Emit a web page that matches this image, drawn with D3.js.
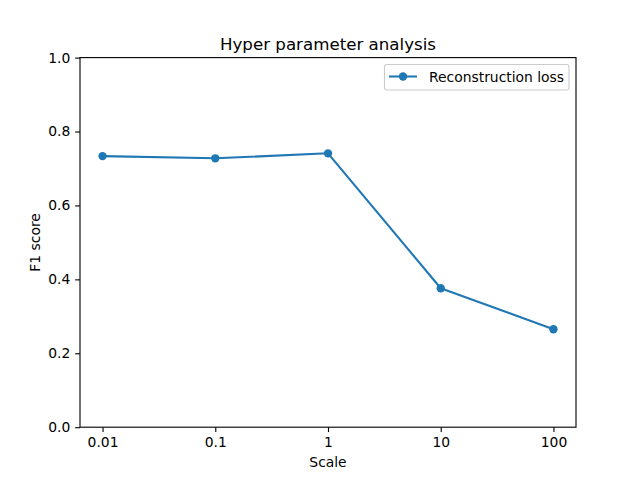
<!DOCTYPE html>
<html>
<head>
<meta charset="utf-8">
<script src="https://cdn.jsdelivr.net/npm/d3@7"></script>
<style>
  body { margin: 0; background: #fff; }
  svg { display: block; font-family: "DejaVu Sans", sans-serif; }
</style>
</head>
<body>
<svg id="chart" width="640" height="480"></svg>
<script>
const categories = ["0.01", "0.1", "1", "10", "100"];
const f1Values = [0.7335, 0.7275, 0.741, 0.376, 0.265];
const yTicks = [0.0, 0.2, 0.4, 0.6, 0.8, 1.0];
const seriesName = "Reconstruction loss";
const titleText = "Hyper parameter analysis";
const xLabel = "Scale";
const yLabel = "F1 score";

const svg = d3.select("#chart");
const L = 80, R = 576, T = 57.6, B = 427.2;
const color = "#1f77b4";

const x = d3.scaleLinear().domain([-0.2, categories.length - 1 + 0.2]).range([L, R]);
const y = d3.scaleLinear().domain([0, 1]).range([B, T]);

svg.append("rect").attr("x", 0).attr("y", 0).attr("width", 640).attr("height", 480).attr("fill", "#fff");

// axes
const xAxis = d3.axisBottom(x)
  .tickValues(d3.range(categories.length))
  .tickFormat(i => categories[i])
  .tickSize(4.86).tickPadding(4.86);
const yAxis = d3.axisLeft(y)
  .tickValues(yTicks)
  .tickFormat(d3.format(".1f"))
  .tickSize(4.86).tickPadding(4.86);

const gx = svg.append("g").attr("transform", `translate(0,${B})`).call(xAxis);
const gy = svg.append("g").attr("transform", `translate(${L},0)`).call(yAxis);
[gx, gy].forEach(g => {
  g.select(".domain").remove();
  g.selectAll(".tick line").attr("stroke", "#000").attr("stroke-width", 1.11);
  g.selectAll(".tick text").attr("fill", "#000").style("font-size", "13.89px").style("font-family", "DejaVu Sans");
});

// spines
svg.append("rect").attr("x", L).attr("y", T).attr("width", R - L).attr("height", B - T)
  .attr("fill", "none").attr("stroke", "#000").attr("stroke-width", 1.11);

// line
const line = d3.line().x((d, i) => x(i)).y(d => y(d));
svg.append("path").datum(f1Values).attr("d", line)
  .attr("fill", "none").attr("stroke", color).attr("stroke-width", 2.08).attr("stroke-linejoin", "round");
svg.selectAll("circle.pt").data(f1Values).enter().append("circle")
  .attr("class", "pt").attr("cx", (d, i) => x(i)).attr("cy", d => y(d)).attr("r", 4.17).attr("fill", color);

// title and labels
svg.append("text").attr("x", (L + R) / 2).attr("y", 49.5).attr("text-anchor", "middle")
  .style("font-size", "16.67px").attr("fill", "#000").text(titleText);
svg.append("text").attr("x", (L + R) / 2).attr("y", 467).attr("text-anchor", "middle")
  .style("font-size", "13.89px").attr("fill", "#000").text(xLabel);
svg.append("text").attr("transform", `translate(39.5,${(T + B) / 2}) rotate(-90)`).attr("text-anchor", "middle")
  .style("font-size", "13.89px").attr("fill", "#000").text(yLabel);

// legend
const lg = svg.append("g");
lg.append("rect").attr("x", 384.5).attr("y", 64.5).attr("width", 184.5).attr("height", 25.5).attr("rx", 2.5)
  .attr("fill", "#fff").attr("fill-opacity", 0.8).attr("stroke", "#ccc").attr("stroke-width", 1.11);
lg.append("line").attr("x1", 389).attr("x2", 417).attr("y1", 76.5).attr("y2", 76.5)
  .attr("stroke", color).attr("stroke-width", 2.08);
lg.append("circle").attr("cx", 403).attr("cy", 76.5).attr("r", 4.17).attr("fill", color);
lg.append("text").attr("x", 429).attr("y", 81.5).style("font-size", "13.89px").attr("fill", "#000").text(seriesName);
</script>
</body>
</html>
